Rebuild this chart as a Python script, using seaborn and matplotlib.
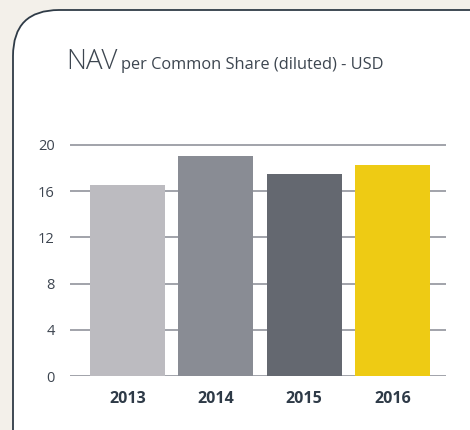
import matplotlib
matplotlib.use('Agg')
import matplotlib.pyplot as plt
from matplotlib.patches import FancyBboxPatch
import seaborn as sns
import pandas as pd

# valores
anos = ['2013', '2014', '2015', '2016']
nav = [16.55, 19.05, 17.5, 18.27]
cores = ['#bcbbc0', '#898c94', '#646870', '#eecb14']
ticks_y = [0, 4, 8, 12, 16, 20]

sns.set_theme(style='white')
plt.rcParams['font.family'] = ['Open Sans', 'DejaVu Sans']

fig = plt.figure(figsize=(4.7, 4.3), dpi=100)
fig.patch.set_facecolor('#f3f0ea')

# cartao de fundo com canto arredondado
bg = fig.add_axes([0, 0, 1, 1], zorder=0)
bg.set_xlim(0, 470)
bg.set_ylim(430, 0)
bg.axis('off')
cartao = FancyBboxPatch((13, 10), 700, 700,
                        boxstyle='round,pad=0,rounding_size=46',
                        facecolor='white', edgecolor='#2f3b47', linewidth=1.3)
bg.add_patch(cartao)

ax = fig.add_axes([70 / 470, 54 / 430, 376 / 470, 234.5 / 430], zorder=1)
ax.patch.set_alpha(0)

df = pd.DataFrame({'ano': anos, 'nav': nav})
sns.barplot(data=df, x='ano', y='nav', hue='ano', palette=cores,
            width=0.85, saturation=1, legend=False, linewidth=0,
            ax=ax, zorder=3)

for v in ticks_y:
    ax.axhline(v, color='#9a9ca4', linewidth=1.3, zorder=1)

ax.set_xlim(-0.651, 3.607)
ax.set_ylim(0, 20.3)
ax.set_yticks(ticks_y)
ax.set_yticklabels([str(v) for v in ticks_y], fontsize=10.5, color='#3d4550')
ax.tick_params(axis='y', length=0, pad=11)
ax.tick_params(axis='x', length=0, pad=11)
for lbl in ax.get_xticklabels():
    lbl.set_fontsize(11.5)
    lbl.set_fontweight('bold')
    lbl.set_color('#2e3a47')
ax.set_xlabel('')
ax.set_ylabel('')
sns.despine(ax=ax, left=True, bottom=True, top=True, right=True)

fig.text(66 / 470, 1 - 69 / 430, 'NAV', fontsize=20, fontweight='light',
         color='#3d4650', ha='left', va='baseline')
fig.text(121 / 470, 1 - 69 / 430, 'per Common Share (diluted) - USD',
         fontsize=11.8, color='#3d4650', ha='left', va='baseline')

plt.savefig('out.png', dpi=100, facecolor=fig.get_facecolor())
plt.close()
